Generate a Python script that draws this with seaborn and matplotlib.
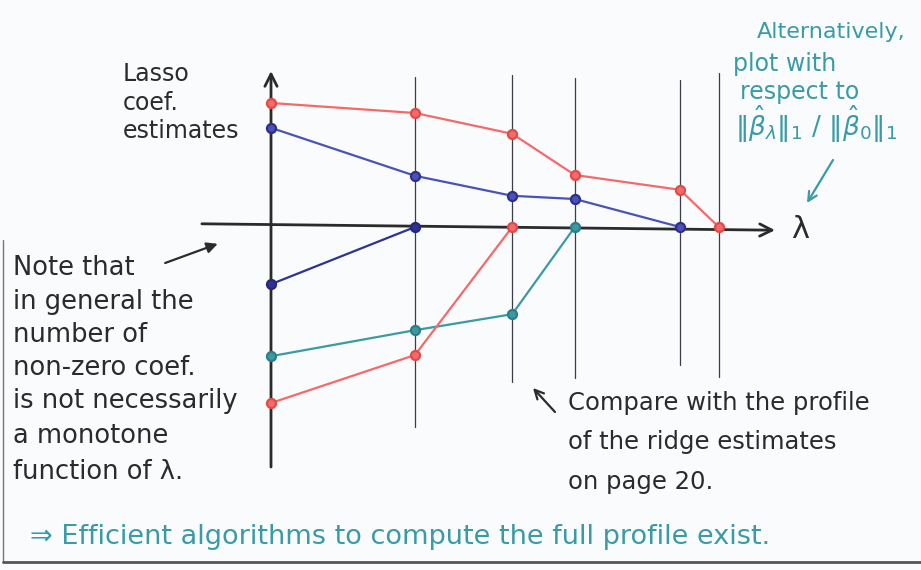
import matplotlib
matplotlib.use("Agg")
import matplotlib.pyplot as plt
import seaborn as sns
import pandas as pd

# Regularisation levels (knots of the lasso path)
lambdas = [0.0, 2.0, 3.35, 4.22, 5.68, 6.22]

# Coefficient paths, one value per knot until the coefficient hits zero
red_upper = [3.10, 2.85, 2.33, 1.30, 0.93, 0.0]
blue_upper = [2.48, 1.28, 0.78, 0.70, 0.0]
blue_lower = [-1.43, 0.0]
teal_path = [-3.23, -2.58, -2.18, 0.0]
red_lower = [-4.40, -3.20, 0.0]

paths = {
    "red_upper": red_upper,
    "blue_upper": blue_upper,
    "blue_lower": blue_lower,
    "teal": teal_path,
    "red_lower": red_lower,
}

rows = []
for name, vals in paths.items():
    for lam, c in zip(lambdas, vals):
        rows.append({"lam": lam, "coef": c, "path": name})
df = pd.DataFrame(rows)

style = {
    "red_upper": ("#f46a6a", "#e24a4a"),
    "blue_upper": ("#4a52b8", "#2c2f8c"),
    "blue_lower": ("#2e3292", "#25287c"),
    "teal": ("#3b9aa3", "#2c7f88"),
    "red_lower": ("#f46a6a", "#e24a4a"),
}

sns.set_theme(style="white")
plt.rcParams["font.family"] = ["DejaVu Sans"]

W, H = 921, 570
fig = plt.figure(figsize=(W / 100, H / 100), dpi=100)
bg = "#f9fbfc"
fig.patch.set_facecolor(bg)
ax = fig.add_axes([0, 0, 1, 1])
ax.set_facecolor(bg)
ax.set_xlim(-271 / 72, (W - 271) / 72)
ax.set_ylim((227 - H) / 40, 227 / 40)
ax.set_axis_off()

ink = "#2b2b2b"
pen = "#3c3c46"

# Coordinate axes with arrow heads
ax.annotate("", xy=(7.0, -0.08), xytext=(-0.96, 0.08),
            arrowprops=dict(arrowstyle="->", color=ink, lw=2.0,
                            mutation_scale=22, shrinkA=0, shrinkB=0))
ax.annotate("", xy=(0.0, 3.9), xytext=(0.0, -6.0),
            arrowprops=dict(arrowstyle="->", color=ink, lw=2.0,
                            mutation_scale=22, shrinkA=0, shrinkB=0))
ax.text(7.35, -0.05, "\u03bb", fontsize=22, color=ink,
        ha="center", va="center")

# Vertical guides at each knot
guide_extent = [(3.75, -5.0), (3.8, -3.88), (3.72, -3.78),
                (3.68, -3.45), (3.85, -3.75)]
for lam, (top, bot) in zip(lambdas[1:], guide_extent):
    ax.plot([lam, lam], [bot, top], color=pen, lw=0.9, zorder=1)

# Coefficient paths
for name, g in df.groupby("path", sort=False):
    line_c, mark_c = style[name]
    sns.lineplot(data=g, x="lam", y="coef", ax=ax, sort=False,
                 estimator=None, color=line_c, lw=1.6, marker="o",
                 markersize=6.5, markerfacecolor=line_c,
                 markeredgecolor=mark_c, markeredgewidth=1.6,
                 legend=False, zorder=3)
ax.set_xlabel("")
ax.set_ylabel("")
ax.set_axis_off()


def fx(x):
    return x / W


def fy(y):
    return 1 - y / H


teal_ink = "#3a9ba6"

# Axis title
fig.text(fx(123), fy(74), "Lasso", fontsize=17, color=ink, va="center")
fig.text(fx(123), fy(103), "coef.", fontsize=17, color=ink, va="center")
fig.text(fx(123), fy(131), "estimates", fontsize=17, color=ink, va="center")

# Left note
note = ["Note that", "in general the", "number of", "non-zero coef.",
        "is not necessarily", "a monotone", "function of \u03bb."]
note_y = [268, 302, 335, 368, 401, 436, 472]
for t, y in zip(note, note_y):
    fig.text(fx(13), fy(y), t, fontsize=18.5, color=ink, va="center")
ax.annotate("", xy=(-0.74, -0.42), xytext=(-1.47, -0.9),
            arrowprops=dict(arrowstyle="-|>", color=ink, lw=1.6,
                            mutation_scale=16, shrinkA=0, shrinkB=0))

# Bottom-right note
comp = ["Compare with the profile", "of the ridge estimates", "on page 20."]
comp_y = [403, 442, 482]
for t, y in zip(comp, comp_y):
    fig.text(fx(568), fy(y), t, fontsize=17.5, color=ink, va="center")
ax.annotate("", xy=((533 - 271) / 72, (227 - 388) / 40),
            xytext=((555 - 271) / 72, (227 - 412) / 40),
            arrowprops=dict(arrowstyle="->", color=ink, lw=1.6,
                            mutation_scale=16, shrinkA=0, shrinkB=0))

# Top-right remark
fig.text(fx(757), fy(32), "Alternatively,", fontsize=16, color=teal_ink,
         va="center")
fig.text(fx(733), fy(64), "plot with", fontsize=17, color=teal_ink,
         va="center")
fig.text(fx(740), fy(92), "respect to", fontsize=17, color=teal_ink,
         va="center")
fig.text(fx(735), fy(124),
         r"$\|\hat{\beta}_\lambda\|_1\ /\ \|\hat{\beta}_0\|_1$",
         fontsize=19, color=teal_ink, va="center")
ax.annotate("", xy=((807 - 271) / 72, (227 - 203) / 40),
            xytext=((833 - 271) / 72, (227 - 160) / 40),
            arrowprops=dict(arrowstyle="->", color=teal_ink, lw=1.6,
                            mutation_scale=16, shrinkA=0, shrinkB=0))

# Conclusion
fig.text(fx(30), fy(537),
         "\u21d2 Efficient algorithms to compute the full profile exist.",
         fontsize=19.5, color=teal_ink, va="center")

# Page frame
fig.add_artist(plt.Line2D([fx(3), fx(3)], [fy(240), fy(562)],
                          color="#777777", lw=1.0))
fig.add_artist(plt.Line2D([fx(3), fx(921)], [fy(562), fy(562)],
                          color="#555555", lw=2.0))

fig.savefig("out.png", dpi=100, facecolor=bg)
